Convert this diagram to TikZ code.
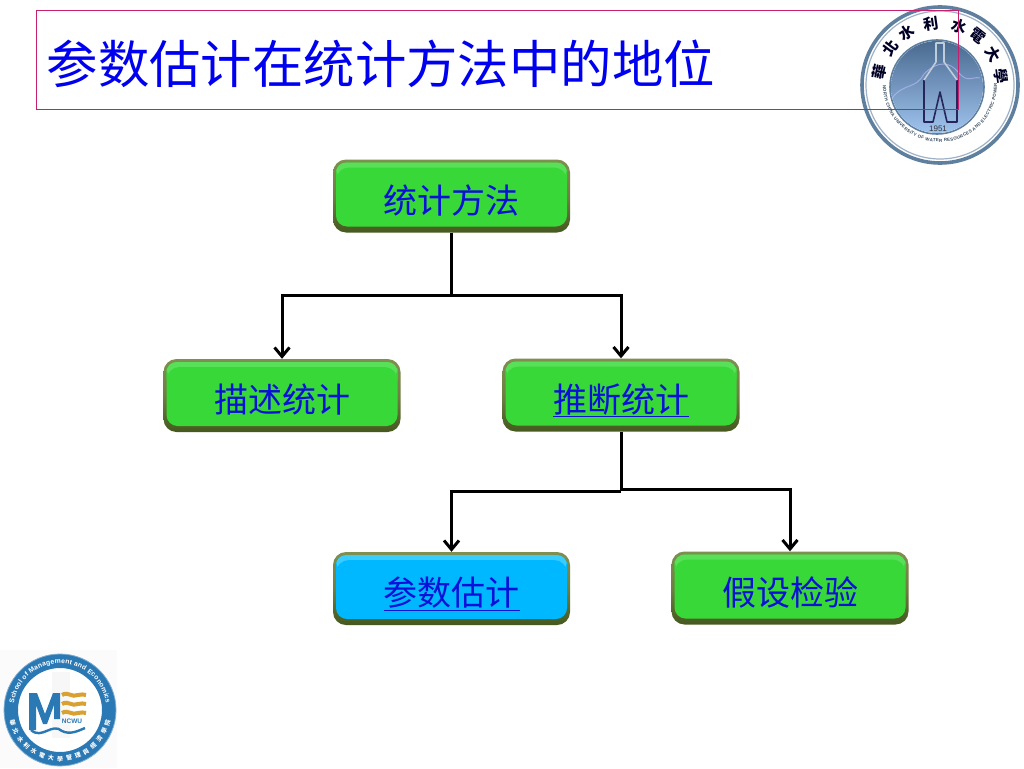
\documentclass[tikz,border=0pt]{standalone}
\usepackage{fontspec}
\usetikzlibrary{arrows.meta,calc,decorations.text,shadings}
\newfontfamily\cjk{Noto Sans CJK SC}
\newfontfamily\cjktc{Noto Sans CJK TC}
\newfontfamily\lib{Liberation Sans}
\definecolor{titleblue}{HTML}{0000F0}
\definecolor{boxblue}{HTML}{0A10D8}
\definecolor{boxgreen}{HTML}{38D838}
\definecolor{boxgreenhi}{HTML}{58E058}
\definecolor{boxcyan}{HTML}{00B8FF}
\definecolor{boxcyanhi}{HTML}{38CCFF}
\definecolor{rimtop}{HTML}{7F8F50}
\definecolor{rimbot}{HTML}{45591F}
\definecolor{pinkline}{HTML}{C81E6E}
\definecolor{ringblue}{HTML}{5F7F9F}
\definecolor{disktop}{HTML}{4A6A90}
\definecolor{diskmid}{HTML}{6E90B8}
\definecolor{diskbot}{HTML}{A0C4EE}
\definecolor{schoolblue}{HTML}{2A78B4}
\definecolor{gold}{HTML}{D9A032}
\tikzset{
  flowbox/.style n args={2}{
    rectangle, rounded corners=13pt, minimum width=237pt, minimum height=73pt,
    inner sep=0pt, text=boxblue, font=\cjk\fontsize{34}{40}\selectfont,
    text height=38pt, text depth=4pt,
    top color=rimtop, bottom color=rimbot, middle color=rimtop!70!rimbot,
    path picture={
      \fill[#1,rounded corners=11pt]
        ($(path picture bounding box.south west)+(3,-6)$) rectangle
        ($(path picture bounding box.north east)+(-3,3)$);
      \fill[#2,rounded corners=10pt]
        ($(path picture bounding box.north west)+(3,3)$) -- 
        ($(path picture bounding box.north east)+(-3,3)$) --
        ($(path picture bounding box.north east)+(-3,20)$) --
        ($(path picture bounding box.north west)+(3,20)$) -- cycle;
      \fill[#1]
        ($(path picture bounding box.north west)+(3,8)$) rectangle
        ($(path picture bounding box.north east)+(-3,22)$);
    }},
  greenbox/.style={flowbox={boxgreen}{boxgreenhi}},
  cyanbox/.style={flowbox={boxcyan}{boxcyanhi}},
  link/.style={line width=3pt, draw=black},
  arrowlink/.style={link, -{Straight Barb[length=9pt,width=15pt,line width=3pt]}},
  titleframe/.style={draw=pinkline, line width=0.9pt},
  titletext/.style={anchor=west, inner sep=0pt, text=titleblue, font=\cjk\fontsize{51.4}{60}\selectfont},
}
\begin{document}
\begin{tikzpicture}[x=1pt,y=-1pt]
\useasboundingbox (0,0) rectangle (1024,768);
\fill[white] (0,0) rectangle (1024,768);

% University seal
\fill[white] (940,85) circle (80);
\draw[ringblue,line width=3.6pt] (940,85) circle (78);
\draw[ringblue!60,line width=1.2pt] (940,85) circle (74);
\draw[ringblue,line width=1.6pt] (937,87) circle (47);
\shade[top color=disktop, middle color=diskmid, bottom color=diskbot] (937,87) circle (46);
\draw[white!75!blue,line width=1pt,opacity=.6] (892,98) .. controls (905,82) and (915,90) .. (924,74) .. controls (938,60) and (950,62) .. (958,72) .. controls (968,84) and (972,76) .. (980,78);
\draw[line width=1.6pt,draw=blue!25!black!85,line join=round]
  (924,80) -- (924,122) -- (933,122) -- (940,92) -- (947,122) -- (957,122) -- (957,80);
\draw[line width=1.6pt,draw=ringblue!40!white,line join=round]
  (924,80) -- (936,62) -- (936,43) -- (944,43) -- (944,62) -- (957,80);
\node[inner sep=0pt,text=black!80,font=\lib\fontsize{8}{9}\selectfont] (sealyear) at (938,129) {1951};
\begin{scope}[shift={(940,85)},y=1pt]
  \foreach \ch/\ang in {華/168,北/143,水/123,利/98,水/72,電/52,大/30,學/8}{
    \node[rotate=\ang-90,inner sep=0pt,text=black!85!blue,font=\cjktc\bfseries\fontsize{15}{16}\selectfont] at (\ang:62) {\ch};
  }
  \path[decorate,decoration={text along path,text align={fit to path},
    text={|\lib\bfseries\fontsize{4.4}{5}\selectfont\color{ringblue!60!black}|NORTH CHINA UNIVERSITY OF WATER RESOURCES AND ELECTRIC POWER}}]
    (180:57) arc[start angle=180,end angle=362,radius=57];
\end{scope}

% Title frame, over the seal
\draw[titleframe] (36,10) -- (958,10) -- (958,109) -- (36,109) -- cycle;
\node[titletext] (title) at (46.5,64) {参数估计在统计方法中的地位};

% School logo
\fill[black!1.5] (0,650) rectangle (117,768);
\fill[white] (60,710) circle (56);
\draw[schoolblue,line width=14pt] (60,710) circle (49);
\draw[schoolblue!60,line width=.8pt] (60,710) circle (56);
\fill[black!3] (52,672) rectangle (70,738);
\begin{scope}[shift={(60,710)},y=1pt]
  \path[decorate,decoration={text along path,text align={fit to path},
    text={|\lib\bfseries\fontsize{6.8}{8}\selectfont\color{white}|School of Management and Economics}}]
    (172:46.5) arc[start angle=172,end angle=8,radius=46.5];
  \foreach \ch [count=\i from 0] in {華,北,水,利,水,電,大,學,管,理,與,經,濟,學,院}{
    \pgfmathsetmacro{\ang}{195+\i*150/14}
    \node[rotate=\ang-270,inner sep=0pt,text=white,font=\cjktc\bfseries\fontsize{6}{7}\selectfont] at (\ang:49) {\ch};
  }
\end{scope}
\fill[schoolblue] (29,730) -- (29,693) -- (37,693) -- (45,714) -- (53,693) -- (60,693) -- (60,719) -- (54,719) -- (54,705) -- (47,724) -- (43,724) -- (36,705) -- (36,730) -- cycle;
\draw[schoolblue,line width=2.4pt] (31,730) .. controls (42,740) and (52,722) .. (62,731) .. controls (70,735) and (78,731) .. (85,728);
\foreach \yy in {695,704,713}{
  \draw[gold,line width=4pt] (62,\yy) .. controls (68,\yy-4) and (72,\yy+3) .. (78,\yy) .. controls (81,\yy-1.5) and (84,\yy) .. (86,\yy);
}
\node[inner sep=0pt,text=schoolblue,font=\lib\bfseries\fontsize{6.5}{7}\selectfont] (ncwu) at (72,721) {NCWU};

% Flow boxes
\node[greenbox] (stat) at (451.5,196) {统计方法};
\node[greenbox] (desc) at (282,395.5) {描述统计};
\node[greenbox] (infer) at (621,395) {\underline{推断统计}};
\node[cyanbox]  (est) at (451.5,588.5) {\underline{参数估计}};
\node[greenbox] (test) at (790,588) {假设检验};

% Connectors
\coordinate (j1) at (451.5,295);
\coordinate (j2a) at (621,491);
\coordinate (j2b) at (621,489.5);
\draw[link] (stat.south) -- (j1);
\draw[arrowlink] (j1) -| (desc.north);
\draw[arrowlink] (j1) -| (infer.north);
\draw[link] (infer.south) -- (j2a);
\draw[arrowlink] (j2a) -| (est.north);
\draw[arrowlink] (j2b) -| (test.north);
\end{tikzpicture}
\end{document}
